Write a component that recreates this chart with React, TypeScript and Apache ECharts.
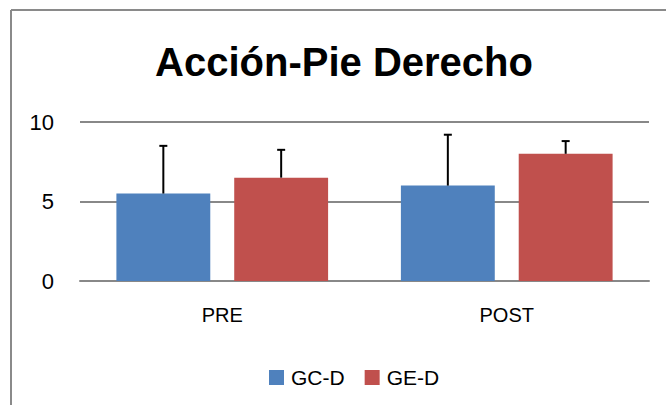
import React, { useEffect, useRef } from "react";
import * as echarts from "echarts";

const categories = ["PRE", "POST"];
const seriesNames = ["GC-D", "GE-D"];
const gcMean = [5.5, 6.0];
const gcErr = [3.0, 3.2];
const geMean = [6.5, 8.0];
const geErr = [1.75, 0.8];
const yTicks = { min: 0, max: 10, interval: 5 };

const BAR_FRAC = 0.33;
const GAP_FRAC = 0.255;
const FONT = "'Liberation Sans', Arial, sans-serif";

export default function App() {
  const ref = useRef<HTMLDivElement>(null);
  useEffect(() => {
    if (!ref.current) return;
    const chart = echarts.init(ref.current, null, { renderer: "svg" });
    const errData: number[][] = [];
    categories.forEach((_, i) => {
      errData.push([i, gcMean[i], gcMean[i] + gcErr[i], -1]);
      errData.push([i, geMean[i], geMean[i] + geErr[i], 1]);
    });
    const option: any = {
      animation: false,
      backgroundColor: "#ffffff",
      textStyle: { fontFamily: FONT },
      graphic: [
        {
          type: "line",
          shape: { x1: 11, y1: 10, x2: 666, y2: 10 },
          style: { stroke: "#8a8a8a", lineWidth: 2 },
          silent: true,
        },
        {
          type: "line",
          shape: { x1: 11, y1: 10, x2: 11, y2: 405 },
          style: { stroke: "#8a8a8a", lineWidth: 2 },
          silent: true,
        },
        {
          type: "text",
          x: 344,
          y: 62,
          style: {
            text: "Acción-Pie Derecho",
            fill: "#000",
            font: `bold 40px ${FONT}`,
            textAlign: "center",
            textVerticalAlign: "middle",
          },
          silent: true,
        },
      ],
      legend: {
        data: seriesNames,
        left: 264,
        top: 362,
        icon: "rect",
        itemWidth: 15,
        itemHeight: 15,
        itemGap: 20,
        textStyle: { fontSize: 21, color: "#000", fontFamily: FONT, padding: [0, 0, 0, 2] },
      },
      grid: { left: 80, right: 17, top: 122, bottom: 124, containLabel: false },
      xAxis: {
        type: "category",
        data: categories,
        axisLine: { lineStyle: { color: "#888", width: 2 } },
        axisTick: { show: false },
        axisLabel: { fontSize: 20, color: "#000", margin: 24, fontFamily: FONT },
      },
      yAxis: {
        type: "value",
        min: yTicks.min,
        max: yTicks.max,
        interval: yTicks.interval,
        axisLine: { show: false },
        axisTick: { show: false },
        splitLine: { lineStyle: { color: "#888", width: 2 } },
        axisLabel: { fontSize: 22, color: "#000", margin: 26, fontFamily: FONT },
      },
      series: [
        {
          name: seriesNames[0],
          type: "bar",
          data: gcMean,
          barWidth: `${BAR_FRAC * 100}%`,
          barGap: `${GAP_FRAC * 100}%`,
          itemStyle: { color: "#4F81BD" },
        },
        {
          name: seriesNames[1],
          type: "bar",
          data: geMean,
          barWidth: `${BAR_FRAC * 100}%`,
          barGap: `${GAP_FRAC * 100}%`,
          itemStyle: { color: "#C0504D" },
        },
        {
          type: "custom",
          name: "err",
          data: errData,
          z: 10,
          silent: true,
          encode: { x: 0, y: [1, 2] },
          renderItem: (params: any, api: any) => {
            const idx = api.value(0);
            const base = api.coord([idx, api.value(1)]);
            const top = api.coord([idx, api.value(2)]);
            const band = api.size([1, 0])[0];
            const bw = band * BAR_FRAC;
            const off = api.value(3) * (bw / 2 + (bw * GAP_FRAC) / 2);
            const x = base[0] + off;
            const cap = 4;
            return {
              type: "group",
              children: [
                {
                  type: "line",
                  shape: { x1: x, y1: base[1], x2: x, y2: top[1] },
                  style: { stroke: "#000", lineWidth: 2 },
                },
                {
                  type: "line",
                  shape: { x1: x - cap, y1: top[1], x2: x + cap, y2: top[1] },
                  style: { stroke: "#000", lineWidth: 2 },
                },
              ],
            };
          },
        },
      ],
    };
    chart.setOption(option);
    return () => chart.dispose();
  }, []);
  return (
    <div
      ref={ref}
      style={{ position: "fixed", left: 0, top: 0, width: 666, height: 405 }}
    />
  );
}
